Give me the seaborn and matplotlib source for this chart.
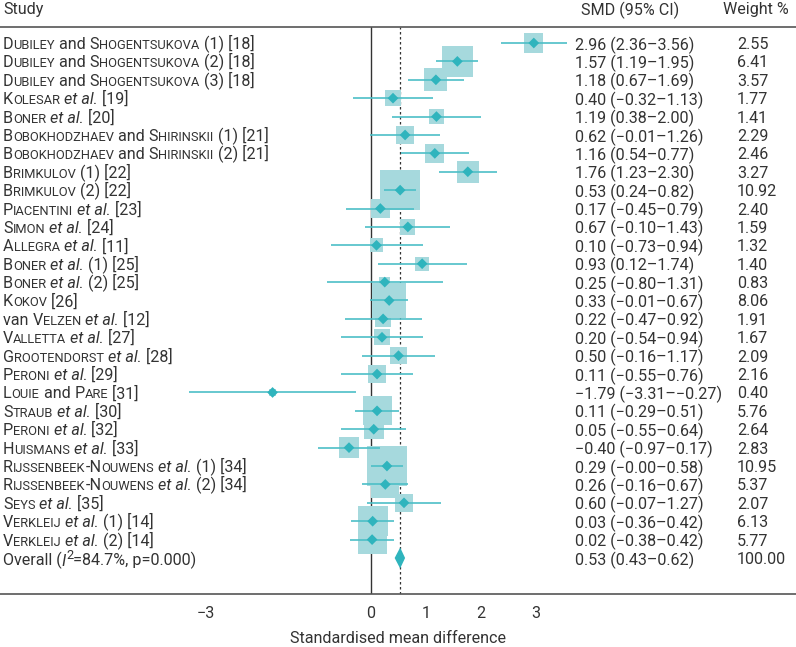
import re
import seaborn as sns
import matplotlib.pyplot as plt
import pandas as pd

sns.set_style('white')
plt.rcParams['font.family'] = ['Roboto', 'DejaVu Sans']

# {Name} = small caps surname, _x_ = italic, ^x^ = superscript
studies = [
    '{Dubiley} and {Shogentsukova} (1) [18]',
    '{Dubiley} and {Shogentsukova} (2) [18]',
    '{Dubiley} and {Shogentsukova} (3) [18]',
    '{Kolesar} _et al._ [19]',
    '{Boner} _et al._ [20]',
    '{Bobokhodzhaev} and {Shirinskii} (1) [21]',
    '{Bobokhodzhaev} and {Shirinskii} (2) [21]',
    '{Brimkulov} (1) [22]',
    '{Brimkulov} (2) [22]',
    '{Piacentini} _et al._ [23]',
    '{Simon} _et al._ [24]',
    '{Allegra} _et al._ [11]',
    '{Boner} _et al._ (1) [25]',
    '{Boner} _et al._ (2) [25]',
    '{Kokov} [26]',
    'van {Velzen} _et al._ [12]',
    '{Valletta} _et al._ [27]',
    '{Grootendorst} _et al._ [28]',
    '{Peroni} _et al._ [29]',
    '{Louie} and {Pare} [31]',
    '{Straub} _et al._ [30]',
    '{Peroni} _et al._ [32]',
    '{Huismans} _et al._ [33]',
    '{Rijssenbeek-Nouwens} _et al._ (1) [34]',
    '{Rijssenbeek-Nouwens} _et al._ (2) [34]',
    '{Seys} _et al._ [35]',
    '{Verkleij} _et al._ (1) [14]',
    '{Verkleij} _et al._ (2) [14]',
]
smd = [2.96, 1.57, 1.18, 0.40, 1.19, 0.62, 1.16, 1.76, 0.53, 0.17, 0.67, 0.10, 0.93, 0.25,
       0.33, 0.22, 0.20, 0.50, 0.11, -1.79, 0.11, 0.05, -0.40, 0.29, 0.26, 0.60, 0.03, 0.02]
ci_lo = [2.36, 1.19, 0.67, -0.32, 0.38, -0.01, 0.54, 1.23, 0.24, -0.45, -0.10, -0.73, 0.12, -0.80,
         -0.01, -0.47, -0.54, -0.16, -0.55, -3.31, -0.29, -0.55, -0.97, -0.00, -0.16, -0.07, -0.36, -0.38]
ci_hi = [3.56, 1.95, 1.69, 1.13, 2.00, 1.26, 1.78, 2.30, 0.82, 0.79, 1.43, 0.94, 1.74, 1.31,
         0.67, 0.92, 0.94, 1.17, 0.76, -0.27, 0.51, 0.64, 0.17, 0.58, 0.67, 1.27, 0.42, 0.42]
ci_text = ['2.96 (2.36–3.56)', '1.57 (1.19–1.95)', '1.18 (0.67–1.69)', '0.40 (−0.32–1.13)',
           '1.19 (0.38–2.00)', '0.62 (−0.01–1.26)', '1.16 (0.54–0.77)', '1.76 (1.23–2.30)',
           '0.53 (0.24–0.82)', '0.17 (−0.45–0.79)', '0.67 (−0.10–1.43)', '0.10 (−0.73–0.94)',
           '0.93 (0.12–1.74)', '0.25 (−0.80–1.31)', '0.33 (−0.01–0.67)', '0.22 (−0.47–0.92)',
           '0.20 (−0.54–0.94)', '0.50 (−0.16–1.17)', '0.11 (−0.55–0.76)', '−1.79 (−3.31–−0.27)',
           '0.11 (−0.29–0.51)', '0.05 (−0.55–0.64)', '−0.40 (−0.97–0.17)', '0.29 (−0.00–0.58)',
           '0.26 (−0.16–0.67)', '0.60 (−0.07–1.27)', '0.03 (−0.36–0.42)', '0.02 (−0.38–0.42)']
weights = [2.55, 6.41, 3.57, 1.77, 1.41, 2.29, 2.46, 3.27, 10.92, 2.40, 1.59, 1.32, 1.40, 0.83,
           8.06, 1.91, 1.67, 2.09, 2.16, 0.40, 5.76, 2.64, 2.83, 10.95, 5.37, 2.07, 6.13, 5.77]

overall_label = 'Overall (_I_^2^=84.7%, p=0.000)'
overall_smd, overall_lo, overall_hi = 0.53, 0.43, 0.62
overall_text = '0.53 (0.43–0.62)'
overall_weight = '100.00'

xticks = [-3, 0, 1, 2, 3]
xtick_labels = ['−3', '0', '1', '2', '3']

box_col = '#a6d9dd'
line_col = '#4dbfc7'
dot_col = '#2fb4bd'
txt_col = '#333333'
fs = 11.6

df = pd.DataFrame({'study': studies, 'smd': smd, 'lo': ci_lo, 'hi': ci_hi,
                   'w': weights, 'row': range(len(studies))})

fig = plt.figure(figsize=(7.96, 6.47), dpi=100)
ax = fig.add_axes([0, 53 / 647, 1, 567 / 647])
ax.set_xlim(-371 / 55, 425 / 55)
n = len(studies) + 1
ax.set_ylim(n - 1 + 36 / 18.39, -16 / 18.39)

ax.axvline(0, color='#333333', lw=1.0, zorder=1)
ax.axvline(overall_smd, color='#333333', lw=0.9, ls=(0, (2, 2)), zorder=1)

sns.scatterplot(data=df, x='smd', y='row', marker='s', s=df['w'] * 75.7, color=box_col,
                edgecolor='none', linewidth=0, ax=ax, zorder=2, legend=False)
ax.hlines(df['row'], df['lo'], df['hi'], color=line_col, lw=1.2, zorder=3)
sns.scatterplot(data=df, x='smd', y='row', marker='D', s=30, color=dot_col,
                edgecolor='none', linewidth=0, ax=ax, zorder=4, legend=False)

yo = n - 1
ax.fill([overall_lo, overall_smd, overall_hi, overall_smd],
        [yo, yo - 0.57, yo, yo + 0.57], color=dot_col, lw=0, zorder=4)


def parse(markup):
    segs = []
    for m in re.finditer(r'\{([^}]*)\}|_([^_]*)_|\^([^^]*)\^|([^{_^]+)', markup):
        sc, it, sup, plain = m.groups()
        if sc is not None:
            run, small = '', None
            for c in sc:
                s = c.islower()
                if small is not None and s != small:
                    segs.append((run, 'small' if small else 'normal'))
                    run = ''
                run += c.upper()
                small = s
            segs.append((run, 'small' if small else 'normal'))
        elif it is not None:
            segs.append((it, 'italic'))
        elif sup is not None:
            segs.append((sup, 'sup'))
        else:
            segs.append((plain, 'normal'))
    return segs


def rich_text(x, y, markup):
    segs = parse(markup)
    first = ax.text(x, y, segs[0][0], fontsize=fs, color=txt_col, va='center_baseline',
                    ha='left')
    prev, base = first, first
    for txt, style in segs[1:]:
        size = fs * 0.8 if style in ('small', 'sup') else fs
        kw = dict(fontsize=size, color=txt_col, va='bottom', ha='left',
                  xycoords=(prev, base), textcoords='offset points')
        if style == 'italic':
            kw['fontstyle'] = 'italic'
        dy = 4.5 if style == 'sup' else 0
        a = ax.annotate(txt, xy=(1, 0), xytext=(0, dy), **kw)
        prev = a
        if style != 'sup':
            base = a


x_study = -368 / 55
x_ci = 204 / 55
x_w = 366 / 55
for i, lab in enumerate(studies):
    rich_text(x_study, i, lab)
    ax.text(x_ci, i, ci_text[i], fontsize=fs, color=txt_col, va='center_baseline')
    ax.text(x_w, i, f'{weights[i]:.2f}', fontsize=fs, color=txt_col, va='center_baseline')
rich_text(x_study, yo, overall_label)
ax.text(x_ci, yo, overall_text, fontsize=fs, color=txt_col, va='center_baseline')
ax.text(x_w, yo, overall_weight, fontsize=fs, color=txt_col, va='center_baseline')

yh = -33 / 18.39
ax.text(x_study, yh, 'Study', fontsize=fs, color=txt_col, va='center', clip_on=False)
ax.text(210 / 55, yh, 'SMD (95% CI)', fontsize=fs, color=txt_col, va='center', clip_on=False)
ax.text(352 / 55, yh, 'Weight %', fontsize=fs, color=txt_col, va='center', clip_on=False)

ax.set_xticks(xticks)
ax.set_xticklabels(xtick_labels, fontsize=fs, color=txt_col)
ax.set_yticks([])
ax.set_xlabel('')
ax.set_ylabel('')
ax.tick_params(axis='x', direction='out', length=4, width=1, color='#555555', pad=5)
for side in ('left', 'right'):
    ax.spines[side].set_visible(False)
for side in ('top', 'bottom'):
    ax.spines[side].set_color('#555555')
    ax.spines[side].set_linewidth(1.2)
ax.text(27 / 55, n - 1 + 80 / 18.39, 'Standardised mean difference', fontsize=fs,
        color=txt_col, ha='center', va='center', clip_on=False)

fig.savefig('out.png', dpi=100)
